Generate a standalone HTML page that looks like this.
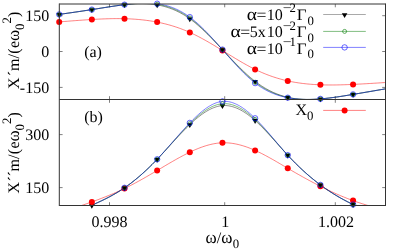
<!DOCTYPE html>
<html><head><meta charset="utf-8"><title>chart</title>
<style>html,body{margin:0;padding:0;background:#fff;width:405px;height:249px;overflow:hidden;font-family:"Liberation Serif",serif;}</style>
</head><body>
<svg width="405" height="249" viewBox="0 0 405 249" style="position:absolute;left:0;top:0;will-change:transform">
<defs><clipPath id="c1"><rect x="59.3" y="4.0" width="326.2" height="95.5"/></clipPath><clipPath id="c2"><rect x="59.3" y="99.5" width="326.2" height="106.0"/></clipPath></defs>
<rect x="0" y="0" width="405" height="249" fill="#fff"/>
<path d="M109.5,4.0 v3.3 M109.5,96.2 v6.6 M109.5,205.5 v-3.3 M224.7,4.0 v3.3 M224.7,96.2 v6.6 M224.7,205.5 v-3.3 M335.3,4.0 v3.3 M335.3,96.2 v6.6 M335.3,205.5 v-3.3 M59.3,15.7 h3.3 M385.5,15.7 h-3.3 M59.3,51.5 h3.3 M385.5,51.5 h-3.3 M59.3,87.4 h3.3 M385.5,87.4 h-3.3 M59.3,134.6 h3.3 M385.5,134.6 h-3.3 M59.3,187.6 h3.3 M385.5,187.6 h-3.3" stroke="#000" stroke-width="0.5" fill="none"/>
<g clip-path="url(#c1)">
<path d="M59.20,21.90 L60.57,21.79 L61.93,21.68 L63.30,21.57 L64.66,21.46 L66.03,21.35 L67.40,21.25 L68.76,21.14 L70.13,21.03 L71.49,20.92 L72.86,20.82 L74.23,20.71 L75.59,20.61 L76.96,20.51 L78.33,20.41 L79.69,20.31 L81.06,20.21 L82.42,20.11 L83.79,20.02 L85.16,19.93 L86.52,19.84 L87.89,19.75 L89.25,19.66 L90.62,19.57 L91.99,19.49 L93.35,19.41 L94.72,19.33 L96.08,19.26 L97.45,19.19 L98.82,19.12 L100.18,19.05 L101.55,18.99 L102.92,18.93 L104.28,18.88 L105.65,18.83 L107.01,18.79 L108.38,18.75 L109.75,18.71 L111.11,18.68 L112.48,18.65 L113.84,18.64 L115.21,18.62 L116.58,18.61 L117.94,18.61 L119.31,18.62 L120.67,18.63 L122.04,18.65 L123.41,18.67 L124.77,18.71 L126.14,18.75 L127.51,18.80 L128.87,18.85 L130.24,18.92 L131.60,18.99 L132.97,19.07 L134.34,19.16 L135.70,19.26 L137.07,19.36 L138.43,19.48 L139.80,19.60 L141.17,19.74 L142.53,19.89 L143.90,20.04 L145.26,20.21 L146.63,20.38 L148.00,20.57 L149.36,20.76 L150.73,20.97 L152.10,21.19 L153.46,21.42 L154.83,21.66 L156.19,21.92 L157.56,22.18 L158.93,22.46 L160.29,22.75 L161.66,23.05 L163.02,23.36 L164.39,23.69 L165.76,24.03 L167.12,24.39 L168.49,24.75 L169.85,25.14 L171.22,25.53 L172.59,25.94 L173.95,26.36 L175.32,26.80 L176.69,27.26 L178.05,27.72 L179.42,28.21 L180.78,28.71 L182.15,29.22 L183.52,29.75 L184.88,30.30 L186.25,30.86 L187.61,31.44 L188.98,32.03 L190.35,32.65 L191.71,33.28 L193.08,33.92 L194.44,34.58 L195.81,35.26 L197.18,35.95 L198.54,36.65 L199.91,37.37 L201.28,38.10 L202.64,38.84 L204.01,39.59 L205.37,40.35 L206.74,41.12 L208.11,41.90 L209.47,42.69 L210.84,43.49 L212.20,44.29 L213.57,45.11 L214.94,45.92 L216.30,46.75 L217.67,47.57 L219.03,48.41 L220.40,49.24 L221.77,50.08 L223.13,50.92 L224.50,51.76 L225.87,52.61 L227.23,53.45 L228.60,54.29 L229.96,55.13 L231.33,55.97 L232.70,56.81 L234.06,57.64 L235.43,58.46 L236.79,59.29 L238.16,60.10 L239.53,60.91 L240.89,61.71 L242.26,62.50 L243.62,63.29 L244.99,64.06 L246.36,64.82 L247.72,65.57 L249.09,66.31 L250.46,67.04 L251.82,67.75 L253.19,68.45 L254.55,69.13 L255.92,69.80 L257.29,70.45 L258.65,71.08 L260.02,71.70 L261.38,72.30 L262.75,72.89 L264.12,73.46 L265.48,74.01 L266.85,74.55 L268.21,75.07 L269.58,75.58 L270.95,76.07 L272.31,76.55 L273.68,77.01 L275.05,77.45 L276.41,77.88 L277.78,78.30 L279.14,78.70 L280.51,79.09 L281.88,79.46 L283.24,79.82 L284.61,80.16 L285.97,80.49 L287.34,80.81 L288.71,81.11 L290.07,81.40 L291.44,81.67 L292.80,81.93 L294.17,82.18 L295.54,82.41 L296.90,82.64 L298.27,82.85 L299.64,83.04 L301.00,83.23 L302.37,83.41 L303.73,83.57 L305.10,83.72 L306.47,83.87 L307.83,84.00 L309.20,84.12 L310.56,84.24 L311.93,84.34 L313.30,84.44 L314.66,84.52 L316.03,84.60 L317.39,84.67 L318.76,84.74 L320.13,84.79 L321.49,84.84 L322.86,84.88 L324.23,84.91 L325.59,84.94 L326.96,84.96 L328.32,84.97 L329.69,84.98 L331.06,84.98 L332.42,84.98 L333.79,84.97 L335.15,84.96 L336.52,84.94 L337.89,84.91 L339.25,84.89 L340.62,84.85 L341.98,84.82 L343.35,84.78 L344.72,84.73 L346.08,84.69 L347.45,84.64 L348.82,84.58 L350.18,84.53 L351.55,84.47 L352.91,84.41 L354.28,84.34 L355.65,84.28 L357.01,84.21 L358.38,84.14 L359.74,84.07 L361.11,84.00 L362.48,83.92 L363.84,83.85 L365.21,83.77 L366.57,83.69 L367.94,83.61 L369.31,83.53 L370.67,83.45 L372.04,83.36 L373.41,83.28 L374.77,83.20 L376.14,83.11 L377.50,83.02 L378.87,82.94 L380.24,82.85 L381.60,82.76 L382.97,82.68 L384.33,82.59 L385.70,82.50" fill="none" stroke="#ff0000" stroke-width="0.5"/>
<path d="M59.20,14.40 L60.57,14.21 L61.93,14.02 L63.30,13.82 L64.66,13.63 L66.03,13.44 L67.40,13.24 L68.76,13.05 L70.13,12.86 L71.49,12.66 L72.86,12.46 L74.23,12.27 L75.59,12.07 L76.96,11.87 L78.33,11.67 L79.69,11.47 L81.06,11.26 L82.42,11.06 L83.79,10.85 L85.16,10.65 L86.52,10.44 L87.89,10.22 L89.25,10.01 L90.62,9.80 L91.99,9.58 L93.35,9.36 L94.72,9.14 L96.08,8.91 L97.45,8.69 L98.82,8.47 L100.18,8.24 L101.55,8.02 L102.92,7.79 L104.28,7.57 L105.65,7.35 L107.01,7.13 L108.38,6.92 L109.75,6.71 L111.11,6.50 L112.48,6.29 L113.84,6.09 L115.21,5.89 L116.58,5.70 L117.94,5.51 L119.31,5.33 L120.67,5.15 L122.04,4.99 L123.41,4.82 L124.77,4.67 L126.14,4.52 L127.51,4.39 L128.87,4.26 L130.24,4.14 L131.60,4.03 L132.97,3.94 L134.34,3.85 L135.70,3.78 L137.07,3.73 L138.43,3.68 L139.80,3.66 L141.17,3.64 L142.53,3.65 L143.90,3.67 L145.26,3.71 L146.63,3.76 L148.00,3.84 L149.36,3.94 L150.73,4.05 L152.10,4.19 L153.46,4.35 L154.83,4.54 L156.19,4.74 L157.56,4.97 L158.93,5.23 L160.29,5.51 L161.66,5.81 L163.02,6.15 L164.39,6.51 L165.76,6.89 L167.12,7.31 L168.49,7.75 L169.85,8.22 L171.22,8.73 L172.59,9.26 L173.95,9.82 L175.32,10.42 L176.69,11.05 L178.05,11.71 L179.42,12.40 L180.78,13.12 L182.15,13.88 L183.52,14.68 L184.88,15.51 L186.25,16.38 L187.61,17.28 L188.98,18.22 L190.35,19.20 L191.71,20.21 L193.08,21.26 L194.44,22.34 L195.81,23.46 L197.18,24.61 L198.54,25.79 L199.91,26.99 L201.28,28.22 L202.64,29.48 L204.01,30.76 L205.37,32.07 L206.74,33.39 L208.11,34.73 L209.47,36.09 L210.84,37.47 L212.20,38.86 L213.57,40.26 L214.94,41.68 L216.30,43.10 L217.67,44.54 L219.03,45.98 L220.40,47.42 L221.77,48.87 L223.13,50.33 L224.50,51.78 L225.87,53.23 L227.23,54.68 L228.60,56.13 L229.96,57.57 L231.33,59.01 L232.70,60.43 L234.06,61.85 L235.43,63.25 L236.79,64.65 L238.16,66.02 L239.53,67.39 L240.89,68.73 L242.26,70.06 L243.62,71.36 L244.99,72.64 L246.36,73.90 L247.72,75.14 L249.09,76.34 L250.46,77.52 L251.82,78.67 L253.19,79.79 L254.55,80.88 L255.92,81.93 L257.29,82.94 L258.65,83.92 L260.02,84.87 L261.38,85.79 L262.75,86.67 L264.12,87.52 L265.48,88.33 L266.85,89.11 L268.21,89.86 L269.58,90.58 L270.95,91.27 L272.31,91.93 L273.68,92.55 L275.05,93.15 L276.41,93.71 L277.78,94.25 L279.14,94.76 L280.51,95.24 L281.88,95.69 L283.24,96.11 L284.61,96.50 L285.97,96.87 L287.34,97.20 L288.71,97.52 L290.07,97.80 L291.44,98.06 L292.80,98.30 L294.17,98.51 L295.54,98.69 L296.90,98.86 L298.27,99.00 L299.64,99.12 L301.00,99.23 L302.37,99.31 L303.73,99.37 L305.10,99.42 L306.47,99.44 L307.83,99.45 L309.20,99.45 L310.56,99.43 L311.93,99.39 L313.30,99.35 L314.66,99.28 L316.03,99.21 L317.39,99.12 L318.76,99.03 L320.13,98.92 L321.49,98.81 L322.86,98.68 L324.23,98.55 L325.59,98.41 L326.96,98.26 L328.32,98.10 L329.69,97.94 L331.06,97.77 L332.42,97.59 L333.79,97.41 L335.15,97.22 L336.52,97.03 L337.89,96.83 L339.25,96.63 L340.62,96.42 L341.98,96.21 L343.35,95.99 L344.72,95.78 L346.08,95.56 L347.45,95.33 L348.82,95.11 L350.18,94.88 L351.55,94.65 L352.91,94.42 L354.28,94.19 L355.65,93.96 L357.01,93.73 L358.38,93.50 L359.74,93.27 L361.11,93.04 L362.48,92.80 L363.84,92.57 L365.21,92.34 L366.57,92.10 L367.94,91.87 L369.31,91.63 L370.67,91.40 L372.04,91.16 L373.41,90.93 L374.77,90.69 L376.14,90.46 L377.50,90.22 L378.87,89.98 L380.24,89.75 L381.60,89.51 L382.97,89.27 L384.33,89.04 L385.70,88.80" fill="none" stroke="#000" stroke-width="0.45"/>
<path d="M59.20,14.40 L60.57,14.21 L61.93,14.01 L63.30,13.82 L64.66,13.62 L66.03,13.43 L67.40,13.23 L68.76,13.04 L70.13,12.84 L71.49,12.65 L72.86,12.45 L74.23,12.25 L75.59,12.05 L76.96,11.85 L78.33,11.65 L79.69,11.45 L81.06,11.25 L82.42,11.04 L83.79,10.84 L85.16,10.63 L86.52,10.42 L87.89,10.22 L89.25,10.00 L90.62,9.79 L91.99,9.58 L93.35,9.36 L94.72,9.15 L96.08,8.93 L97.45,8.71 L98.82,8.49 L100.18,8.27 L101.55,8.05 L102.92,7.83 L104.28,7.61 L105.65,7.40 L107.01,7.18 L108.38,6.97 L109.75,6.76 L111.11,6.55 L112.48,6.34 L113.84,6.14 L115.21,5.94 L116.58,5.74 L117.94,5.55 L119.31,5.37 L120.67,5.18 L122.04,5.01 L123.41,4.83 L124.77,4.67 L126.14,4.51 L127.51,4.35 L128.87,4.21 L130.24,4.07 L131.60,3.94 L132.97,3.82 L134.34,3.72 L135.70,3.62 L137.07,3.54 L138.43,3.47 L139.80,3.42 L141.17,3.38 L142.53,3.35 L143.90,3.34 L145.26,3.35 L146.63,3.38 L148.00,3.43 L149.36,3.50 L150.73,3.59 L152.10,3.69 L153.46,3.83 L154.83,3.98 L156.19,4.16 L157.56,4.36 L158.93,4.59 L160.29,4.85 L161.66,5.13 L163.02,5.44 L164.39,5.78 L165.76,6.14 L167.12,6.54 L168.49,6.96 L169.85,7.42 L171.22,7.91 L172.59,8.43 L173.95,8.98 L175.32,9.56 L176.69,10.18 L178.05,10.83 L179.42,11.52 L180.78,12.24 L182.15,13.00 L183.52,13.80 L184.88,14.63 L186.25,15.50 L187.61,16.41 L188.98,17.36 L190.35,18.35 L191.71,19.38 L193.08,20.45 L194.44,21.55 L195.81,22.69 L197.18,23.86 L198.54,25.06 L199.91,26.30 L201.28,27.56 L202.64,28.85 L204.01,30.16 L205.37,31.50 L206.74,32.86 L208.11,34.25 L209.47,35.65 L210.84,37.06 L212.20,38.50 L213.57,39.95 L214.94,41.41 L216.30,42.88 L217.67,44.36 L219.03,45.85 L220.40,47.35 L221.77,48.85 L223.13,50.35 L224.50,51.86 L225.87,53.36 L227.23,54.87 L228.60,56.37 L229.96,57.86 L231.33,59.35 L232.70,60.82 L234.06,62.29 L235.43,63.74 L236.79,65.18 L238.16,66.61 L239.53,68.01 L240.89,69.40 L242.26,70.76 L243.62,72.10 L244.99,73.42 L246.36,74.71 L247.72,75.97 L249.09,77.20 L250.46,78.39 L251.82,79.56 L253.19,80.68 L254.55,81.77 L255.92,82.83 L257.29,83.84 L258.65,84.81 L260.02,85.74 L261.38,86.64 L262.75,87.50 L264.12,88.32 L265.48,89.11 L266.85,89.86 L268.21,90.58 L269.58,91.27 L270.95,91.92 L272.31,92.54 L273.68,93.13 L275.05,93.68 L276.41,94.21 L277.78,94.71 L279.14,95.18 L280.51,95.62 L281.88,96.03 L283.24,96.41 L284.61,96.77 L285.97,97.10 L287.34,97.41 L288.71,97.70 L290.07,97.96 L291.44,98.19 L292.80,98.41 L294.17,98.60 L295.54,98.77 L296.90,98.92 L298.27,99.05 L299.64,99.16 L301.00,99.25 L302.37,99.33 L303.73,99.38 L305.10,99.42 L306.47,99.45 L307.83,99.45 L309.20,99.45 L310.56,99.43 L311.93,99.39 L313.30,99.34 L314.66,99.28 L316.03,99.21 L317.39,99.12 L318.76,99.03 L320.13,98.92 L321.49,98.81 L322.86,98.68 L324.23,98.55 L325.59,98.41 L326.96,98.26 L328.32,98.11 L329.69,97.94 L331.06,97.77 L332.42,97.60 L333.79,97.41 L335.15,97.23 L336.52,97.03 L337.89,96.83 L339.25,96.63 L340.62,96.42 L341.98,96.21 L343.35,96.00 L344.72,95.78 L346.08,95.56 L347.45,95.33 L348.82,95.11 L350.18,94.88 L351.55,94.65 L352.91,94.42 L354.28,94.19 L355.65,93.96 L357.01,93.73 L358.38,93.50 L359.74,93.27 L361.11,93.03 L362.48,92.80 L363.84,92.57 L365.21,92.33 L366.57,92.10 L367.94,91.87 L369.31,91.63 L370.67,91.40 L372.04,91.16 L373.41,90.93 L374.77,90.69 L376.14,90.45 L377.50,90.22 L378.87,89.98 L380.24,89.75 L381.60,89.51 L382.97,89.27 L384.33,89.04 L385.70,88.80" fill="none" stroke="#007a00" stroke-width="0.5"/>
<path d="M59.20,14.40 L60.57,14.20 L61.93,14.01 L63.30,13.81 L64.66,13.62 L66.03,13.42 L67.40,13.22 L68.76,13.03 L70.13,12.83 L71.49,12.63 L72.86,12.43 L74.23,12.23 L75.59,12.04 L76.96,11.84 L78.33,11.63 L79.69,11.43 L81.06,11.23 L82.42,11.03 L83.79,10.82 L85.16,10.62 L86.52,10.41 L87.89,10.21 L89.25,10.00 L90.62,9.79 L91.99,9.58 L93.35,9.37 L94.72,9.15 L96.08,8.94 L97.45,8.73 L98.82,8.51 L100.18,8.30 L101.55,8.08 L102.92,7.87 L104.28,7.66 L105.65,7.44 L107.01,7.23 L108.38,7.02 L109.75,6.81 L111.11,6.60 L112.48,6.40 L113.84,6.19 L115.21,5.99 L116.58,5.79 L117.94,5.60 L119.31,5.40 L120.67,5.21 L122.04,5.03 L123.41,4.84 L124.77,4.66 L126.14,4.49 L127.51,4.32 L128.87,4.16 L130.24,4.00 L131.60,3.85 L132.97,3.71 L134.34,3.58 L135.70,3.46 L137.07,3.35 L138.43,3.26 L139.80,3.18 L141.17,3.11 L142.53,3.06 L143.90,3.02 L145.26,3.00 L146.63,3.00 L148.00,3.02 L149.36,3.06 L150.73,3.12 L152.10,3.20 L153.46,3.30 L154.83,3.43 L156.19,3.58 L157.56,3.76 L158.93,3.96 L160.29,4.19 L161.66,4.45 L163.02,4.73 L164.39,5.05 L165.76,5.39 L167.12,5.77 L168.49,6.18 L169.85,6.62 L171.22,7.09 L172.59,7.59 L173.95,8.13 L175.32,8.71 L176.69,9.31 L178.05,9.96 L179.42,10.64 L180.78,11.36 L182.15,12.12 L183.52,12.91 L184.88,13.75 L186.25,14.63 L187.61,15.54 L188.98,16.50 L190.35,17.51 L191.71,18.55 L193.08,19.63 L194.44,20.76 L195.81,21.92 L197.18,23.11 L198.54,24.34 L199.91,25.60 L201.28,26.90 L202.64,28.22 L204.01,29.57 L205.37,30.94 L206.74,32.34 L208.11,33.76 L209.47,35.20 L210.84,36.66 L212.20,38.14 L213.57,39.63 L214.94,41.14 L216.30,42.66 L217.67,44.19 L219.03,45.72 L220.40,47.27 L221.77,48.82 L223.13,50.38 L224.50,51.94 L225.87,53.49 L227.23,55.05 L228.60,56.60 L229.96,58.15 L231.33,59.69 L232.70,61.22 L234.06,62.73 L235.43,64.23 L236.79,65.72 L238.16,67.19 L239.53,68.64 L240.89,70.06 L242.26,71.47 L243.62,72.84 L244.99,74.19 L246.36,75.51 L247.72,76.80 L249.09,78.05 L250.46,79.26 L251.82,80.44 L253.19,81.58 L254.55,82.67 L255.92,83.73 L257.29,84.73 L258.65,85.70 L260.02,86.62 L261.38,87.50 L262.75,88.33 L264.12,89.13 L265.48,89.89 L266.85,90.62 L268.21,91.30 L269.58,91.95 L270.95,92.57 L272.31,93.15 L273.68,93.70 L275.05,94.22 L276.41,94.71 L277.78,95.17 L279.14,95.60 L280.51,96.00 L281.88,96.37 L283.24,96.72 L284.61,97.04 L285.97,97.34 L287.34,97.62 L288.71,97.88 L290.07,98.11 L291.44,98.32 L292.80,98.52 L294.17,98.69 L295.54,98.85 L296.90,98.98 L298.27,99.10 L299.64,99.20 L301.00,99.28 L302.37,99.35 L303.73,99.40 L305.10,99.43 L306.47,99.45 L307.83,99.46 L309.20,99.45 L310.56,99.42 L311.93,99.39 L313.30,99.34 L314.66,99.28 L316.03,99.20 L317.39,99.12 L318.76,99.03 L320.13,98.92 L321.49,98.81 L322.86,98.69 L324.23,98.55 L325.59,98.41 L326.96,98.27 L328.32,98.11 L329.69,97.95 L331.06,97.78 L332.42,97.60 L333.79,97.42 L335.15,97.23 L336.52,97.04 L337.89,96.84 L339.25,96.63 L340.62,96.43 L341.98,96.21 L343.35,96.00 L344.72,95.78 L346.08,95.56 L347.45,95.33 L348.82,95.11 L350.18,94.88 L351.55,94.65 L352.91,94.42 L354.28,94.19 L355.65,93.96 L357.01,93.73 L358.38,93.50 L359.74,93.27 L361.11,93.03 L362.48,92.80 L363.84,92.57 L365.21,92.33 L366.57,92.10 L367.94,91.87 L369.31,91.63 L370.67,91.40 L372.04,91.16 L373.41,90.93 L374.77,90.69 L376.14,90.45 L377.50,90.22 L378.87,89.98 L380.24,89.75 L381.60,89.51 L382.97,89.27 L384.33,89.04 L385.70,88.80" fill="none" stroke="#0000ff" stroke-width="0.5"/>
</g>
<circle cx="59.20" cy="21.90" r="3" fill="#ff0000"/>
<circle cx="91.85" cy="19.50" r="3" fill="#ff0000"/>
<circle cx="124.50" cy="18.70" r="3" fill="#ff0000"/>
<circle cx="157.15" cy="22.10" r="3" fill="#ff0000"/>
<circle cx="189.80" cy="32.40" r="3" fill="#ff0000"/>
<circle cx="222.45" cy="50.50" r="3" fill="#ff0000"/>
<circle cx="255.10" cy="69.40" r="3" fill="#ff0000"/>
<circle cx="287.75" cy="80.90" r="3" fill="#ff0000"/>
<circle cx="320.40" cy="84.80" r="3" fill="#ff0000"/>
<circle cx="353.05" cy="84.40" r="3" fill="#ff0000"/>
<path d="M56.40,13.00 L62.00,13.00 L59.20,17.80 Z" fill="#000"/>
<circle cx="59.20" cy="14.40" r="2.0" fill="none" stroke="#007a00" stroke-width="0.6"/>
<circle cx="59.20" cy="14.40" r="2.7" fill="none" stroke="#0000ff" stroke-width="0.6"/>
<path d="M89.05,8.20 L94.65,8.20 L91.85,13.00 Z" fill="#000"/>
<circle cx="91.85" cy="9.60" r="2.0" fill="none" stroke="#007a00" stroke-width="0.6"/>
<circle cx="91.85" cy="9.60" r="2.7" fill="none" stroke="#0000ff" stroke-width="0.6"/>
<path d="M121.70,3.30 L127.30,3.30 L124.50,8.10 Z" fill="#000"/>
<circle cx="124.50" cy="4.70" r="2.0" fill="none" stroke="#007a00" stroke-width="0.6"/>
<circle cx="124.50" cy="4.70" r="2.7" fill="none" stroke="#0000ff" stroke-width="0.6"/>
<path d="M154.35,3.50 L159.95,3.50 L157.15,8.30 Z" fill="#000"/>
<circle cx="157.15" cy="4.30" r="2.0" fill="none" stroke="#007a00" stroke-width="0.6"/>
<circle cx="157.15" cy="3.70" r="2.7" fill="none" stroke="#0000ff" stroke-width="0.6"/>
<path d="M187.00,17.40 L192.60,17.40 L189.80,22.20 Z" fill="#000"/>
<circle cx="189.80" cy="17.95" r="2.0" fill="none" stroke="#007a00" stroke-width="0.6"/>
<circle cx="189.80" cy="17.10" r="2.7" fill="none" stroke="#0000ff" stroke-width="0.6"/>
<path d="M219.65,48.20 L225.25,48.20 L222.45,53.00 Z" fill="#000"/>
<circle cx="222.45" cy="49.60" r="2.0" fill="none" stroke="#007a00" stroke-width="0.6"/>
<circle cx="222.45" cy="49.60" r="2.7" fill="none" stroke="#0000ff" stroke-width="0.6"/>
<path d="M252.30,79.90 L257.90,79.90 L255.10,84.70 Z" fill="#000"/>
<circle cx="255.10" cy="82.20" r="2.0" fill="none" stroke="#007a00" stroke-width="0.6"/>
<circle cx="255.10" cy="83.10" r="2.7" fill="none" stroke="#0000ff" stroke-width="0.6"/>
<path d="M284.95,95.90 L290.55,95.90 L287.75,100.70 Z" fill="#000"/>
<circle cx="287.75" cy="97.50" r="2.0" fill="none" stroke="#007a00" stroke-width="0.6"/>
<circle cx="287.75" cy="97.70" r="2.7" fill="none" stroke="#0000ff" stroke-width="0.6"/>
<path d="M317.60,97.50 L323.20,97.50 L320.40,102.30 Z" fill="#000"/>
<circle cx="320.40" cy="98.90" r="2.0" fill="none" stroke="#007a00" stroke-width="0.6"/>
<circle cx="320.40" cy="98.90" r="2.7" fill="none" stroke="#0000ff" stroke-width="0.6"/>
<path d="M350.25,93.00 L355.85,93.00 L353.05,97.80 Z" fill="#000"/>
<circle cx="353.05" cy="94.40" r="2.0" fill="none" stroke="#007a00" stroke-width="0.6"/>
<circle cx="353.05" cy="94.40" r="2.7" fill="none" stroke="#0000ff" stroke-width="0.6"/>
<g clip-path="url(#c2)">
<path d="M59.20,212.90 L60.57,212.45 L61.93,212.01 L63.30,211.56 L64.66,211.12 L66.03,210.67 L67.40,210.22 L68.76,209.77 L70.13,209.32 L71.49,208.87 L72.86,208.42 L74.23,207.96 L75.59,207.51 L76.96,207.05 L78.33,206.59 L79.69,206.13 L81.06,205.66 L82.42,205.20 L83.79,204.73 L85.16,204.26 L86.52,203.78 L87.89,203.30 L89.25,202.82 L90.62,202.34 L91.99,201.85 L93.35,201.36 L94.72,200.86 L96.08,200.36 L97.45,199.86 L98.82,199.35 L100.18,198.84 L101.55,198.32 L102.92,197.79 L104.28,197.26 L105.65,196.72 L107.01,196.18 L108.38,195.63 L109.75,195.07 L111.11,194.50 L112.48,193.93 L113.84,193.35 L115.21,192.76 L116.58,192.16 L117.94,191.55 L119.31,190.94 L120.67,190.31 L122.04,189.67 L123.41,189.03 L124.77,188.37 L126.14,187.70 L127.51,187.02 L128.87,186.33 L130.24,185.64 L131.60,184.93 L132.97,184.21 L134.34,183.49 L135.70,182.76 L137.07,182.02 L138.43,181.27 L139.80,180.52 L141.17,179.76 L142.53,178.99 L143.90,178.22 L145.26,177.44 L146.63,176.66 L148.00,175.87 L149.36,175.08 L150.73,174.28 L152.10,173.48 L153.46,172.68 L154.83,171.87 L156.19,171.07 L157.56,170.26 L158.93,169.45 L160.29,168.63 L161.66,167.82 L163.02,167.01 L164.39,166.20 L165.76,165.39 L167.12,164.58 L168.49,163.78 L169.85,162.98 L171.22,162.19 L172.59,161.40 L173.95,160.61 L175.32,159.84 L176.69,159.07 L178.05,158.31 L179.42,157.56 L180.78,156.81 L182.15,156.08 L183.52,155.36 L184.88,154.65 L186.25,153.95 L187.61,153.27 L188.98,152.60 L190.35,151.94 L191.71,151.30 L193.08,150.67 L194.44,150.06 L195.81,149.47 L197.18,148.90 L198.54,148.35 L199.91,147.82 L201.28,147.30 L202.64,146.82 L204.01,146.35 L205.37,145.91 L206.74,145.49 L208.11,145.10 L209.47,144.74 L210.84,144.41 L212.20,144.10 L213.57,143.82 L214.94,143.57 L216.30,143.36 L217.67,143.17 L219.03,143.02 L220.40,142.91 L221.77,142.83 L223.13,142.78 L224.50,142.77 L225.87,142.80 L227.23,142.86 L228.60,142.95 L229.96,143.08 L231.33,143.24 L232.70,143.43 L234.06,143.65 L235.43,143.90 L236.79,144.18 L238.16,144.49 L239.53,144.83 L240.89,145.19 L242.26,145.58 L243.62,146.00 L244.99,146.44 L246.36,146.90 L247.72,147.39 L249.09,147.90 L250.46,148.43 L251.82,148.99 L253.19,149.56 L254.55,150.16 L255.92,150.77 L257.29,151.40 L258.65,152.05 L260.02,152.71 L261.38,153.39 L262.75,154.09 L264.12,154.80 L265.48,155.52 L266.85,156.25 L268.21,157.00 L269.58,157.75 L270.95,158.51 L272.31,159.28 L273.68,160.06 L275.05,160.85 L276.41,161.64 L277.78,162.43 L279.14,163.23 L280.51,164.04 L281.88,164.84 L283.24,165.65 L284.61,166.45 L285.97,167.26 L287.34,168.06 L288.71,168.86 L290.07,169.66 L291.44,170.45 L292.80,171.25 L294.17,172.03 L295.54,172.82 L296.90,173.60 L298.27,174.38 L299.64,175.15 L301.00,175.92 L302.37,176.68 L303.73,177.45 L305.10,178.20 L306.47,178.95 L307.83,179.70 L309.20,180.44 L310.56,181.17 L311.93,181.90 L313.30,182.63 L314.66,183.35 L316.03,184.06 L317.39,184.77 L318.76,185.47 L320.13,186.16 L321.49,186.85 L322.86,187.53 L324.23,188.20 L325.59,188.87 L326.96,189.53 L328.32,190.18 L329.69,190.83 L331.06,191.47 L332.42,192.10 L333.79,192.72 L335.15,193.33 L336.52,193.94 L337.89,194.54 L339.25,195.13 L340.62,195.71 L341.98,196.28 L343.35,196.85 L344.72,197.40 L346.08,197.95 L347.45,198.49 L348.82,199.02 L350.18,199.54 L351.55,200.05 L352.91,200.55 L354.28,201.04 L355.65,201.52 L357.01,202.00 L358.38,202.46 L359.74,202.92 L361.11,203.37 L362.48,203.81 L363.84,204.24 L365.21,204.67 L366.57,205.10 L367.94,205.51 L369.31,205.92 L370.67,206.33 L372.04,206.73 L373.41,207.13 L374.77,207.53 L376.14,207.92 L377.50,208.31 L378.87,208.69 L380.24,209.08 L381.60,209.46 L382.97,209.84 L384.33,210.22 L385.70,210.60" fill="none" stroke="#ff0000" stroke-width="0.5"/>
<path d="M59.20,218.70 L60.57,218.15 L61.93,217.60 L63.30,217.06 L64.66,216.51 L66.03,215.96 L67.40,215.41 L68.76,214.86 L70.13,214.30 L71.49,213.75 L72.86,213.19 L74.23,212.63 L75.59,212.08 L76.96,211.51 L78.33,210.95 L79.69,210.38 L81.06,209.81 L82.42,209.24 L83.79,208.67 L85.16,208.09 L86.52,207.51 L87.89,206.92 L89.25,206.33 L90.62,205.74 L91.99,205.14 L93.35,204.54 L94.72,203.93 L96.08,203.32 L97.45,202.70 L98.82,202.07 L100.18,201.43 L101.55,200.79 L102.92,200.13 L104.28,199.47 L105.65,198.79 L107.01,198.10 L108.38,197.40 L109.75,196.68 L111.11,195.94 L112.48,195.20 L113.84,194.43 L115.21,193.65 L116.58,192.85 L117.94,192.03 L119.31,191.19 L120.67,190.33 L122.04,189.44 L123.41,188.54 L124.77,187.61 L126.14,186.66 L127.51,185.69 L128.87,184.69 L130.24,183.67 L131.60,182.63 L132.97,181.56 L134.34,180.47 L135.70,179.36 L137.07,178.23 L138.43,177.08 L139.80,175.91 L141.17,174.71 L142.53,173.50 L143.90,172.26 L145.26,171.01 L146.63,169.73 L148.00,168.44 L149.36,167.13 L150.73,165.80 L152.10,164.45 L153.46,163.08 L154.83,161.70 L156.19,160.29 L157.56,158.87 L158.93,157.43 L160.29,155.98 L161.66,154.52 L163.02,153.04 L164.39,151.56 L165.76,150.07 L167.12,148.57 L168.49,147.07 L169.85,145.56 L171.22,144.06 L172.59,142.56 L173.95,141.06 L175.32,139.57 L176.69,138.09 L178.05,136.61 L179.42,135.15 L180.78,133.70 L182.15,132.27 L183.52,130.85 L184.88,129.45 L186.25,128.07 L187.61,126.72 L188.98,125.39 L190.35,124.08 L191.71,122.80 L193.08,121.56 L194.44,120.34 L195.81,119.16 L197.18,118.02 L198.54,116.91 L199.91,115.84 L201.28,114.81 L202.64,113.83 L204.01,112.89 L205.37,112.00 L206.74,111.16 L208.11,110.37 L209.47,109.63 L210.84,108.94 L212.20,108.32 L213.57,107.75 L214.94,107.24 L216.30,106.79 L217.67,106.41 L219.03,106.09 L220.40,105.84 L221.77,105.66 L223.13,105.56 L224.50,105.52 L225.87,105.55 L227.23,105.66 L228.60,105.83 L229.96,106.07 L231.33,106.37 L232.70,106.73 L234.06,107.16 L235.43,107.65 L236.79,108.20 L238.16,108.80 L239.53,109.46 L240.89,110.17 L242.26,110.94 L243.62,111.76 L244.99,112.63 L246.36,113.55 L247.72,114.52 L249.09,115.53 L250.46,116.59 L251.82,117.69 L253.19,118.83 L254.55,120.02 L255.92,121.24 L257.29,122.50 L258.65,123.79 L260.02,125.11 L261.38,126.47 L262.75,127.85 L264.12,129.26 L265.48,130.69 L266.85,132.14 L268.21,133.61 L269.58,135.10 L270.95,136.59 L272.31,138.10 L273.68,139.62 L275.05,141.15 L276.41,142.67 L277.78,144.20 L279.14,145.73 L280.51,147.26 L281.88,148.78 L283.24,150.29 L284.61,151.80 L285.97,153.29 L287.34,154.76 L288.71,156.22 L290.07,157.66 L291.44,159.08 L292.80,160.48 L294.17,161.87 L295.54,163.24 L296.90,164.59 L298.27,165.92 L299.64,167.23 L301.00,168.53 L302.37,169.80 L303.73,171.06 L305.10,172.30 L306.47,173.52 L307.83,174.72 L309.20,175.91 L310.56,177.07 L311.93,178.22 L313.30,179.34 L314.66,180.45 L316.03,181.54 L317.39,182.61 L318.76,183.66 L320.13,184.70 L321.49,185.71 L322.86,186.70 L324.23,187.68 L325.59,188.64 L326.96,189.58 L328.32,190.50 L329.69,191.40 L331.06,192.29 L332.42,193.16 L333.79,194.02 L335.15,194.86 L336.52,195.68 L337.89,196.49 L339.25,197.28 L340.62,198.06 L341.98,198.82 L343.35,199.57 L344.72,200.30 L346.08,201.02 L347.45,201.73 L348.82,202.43 L350.18,203.11 L351.55,203.78 L352.91,204.43 L354.28,205.08 L355.65,205.71 L357.01,206.34 L358.38,206.95 L359.74,207.55 L361.11,208.15 L362.48,208.73 L363.84,209.31 L365.21,209.88 L366.57,210.44 L367.94,210.99 L369.31,211.54 L370.67,212.09 L372.04,212.62 L373.41,213.15 L374.77,213.68 L376.14,214.20 L377.50,214.72 L378.87,215.24 L380.24,215.76 L381.60,216.27 L382.97,216.78 L384.33,217.29 L385.70,217.80" fill="none" stroke="#000" stroke-width="0.45"/>
<path d="M59.20,218.70 L60.57,218.15 L61.93,217.61 L63.30,217.06 L64.66,216.51 L66.03,215.96 L67.40,215.41 L68.76,214.86 L70.13,214.31 L71.49,213.75 L72.86,213.20 L74.23,212.64 L75.59,212.08 L76.96,211.52 L78.33,210.96 L79.69,210.39 L81.06,209.82 L82.42,209.25 L83.79,208.67 L85.16,208.09 L86.52,207.51 L87.89,206.92 L89.25,206.33 L90.62,205.74 L91.99,205.14 L93.35,204.54 L94.72,203.93 L96.08,203.31 L97.45,202.69 L98.82,202.06 L100.18,201.43 L101.55,200.78 L102.92,200.12 L104.28,199.45 L105.65,198.78 L107.01,198.08 L108.38,197.38 L109.75,196.66 L111.11,195.93 L112.48,195.18 L113.84,194.41 L115.21,193.63 L116.58,192.83 L117.94,192.01 L119.31,191.18 L120.67,190.32 L122.04,189.44 L123.41,188.54 L124.77,187.61 L126.14,186.67 L127.51,185.70 L128.87,184.71 L130.24,183.69 L131.60,182.65 L132.97,181.59 L134.34,180.51 L135.70,179.41 L137.07,178.28 L138.43,177.13 L139.80,175.96 L141.17,174.77 L142.53,173.56 L143.90,172.33 L145.26,171.07 L146.63,169.80 L148.00,168.50 L149.36,167.19 L150.73,165.85 L152.10,164.49 L153.46,163.12 L154.83,161.72 L156.19,160.30 L157.56,158.87 L158.93,157.41 L160.29,155.94 L161.66,154.45 L163.02,152.95 L164.39,151.44 L165.76,149.92 L167.12,148.39 L168.49,146.86 L169.85,145.32 L171.22,143.79 L172.59,142.25 L173.95,140.71 L175.32,139.18 L176.69,137.66 L178.05,136.14 L179.42,134.63 L180.78,133.14 L182.15,131.65 L183.52,130.19 L184.88,128.74 L186.25,127.31 L187.61,125.90 L188.98,124.52 L190.35,123.16 L191.71,121.83 L193.08,120.53 L194.44,119.26 L195.81,118.02 L197.18,116.82 L198.54,115.66 L199.91,114.53 L201.28,113.45 L202.64,112.42 L204.01,111.43 L205.37,110.49 L206.74,109.60 L208.11,108.76 L209.47,107.98 L210.84,107.25 L212.20,106.59 L213.57,105.98 L214.94,105.44 L216.30,104.97 L217.67,104.56 L219.03,104.22 L220.40,103.96 L221.77,103.77 L223.13,103.65 L224.50,103.61 L225.87,103.65 L227.23,103.76 L228.60,103.95 L229.96,104.20 L231.33,104.52 L232.70,104.91 L234.06,105.36 L235.43,105.88 L236.79,106.46 L238.16,107.10 L239.53,107.79 L240.89,108.55 L242.26,109.36 L243.62,110.23 L244.99,111.14 L246.36,112.11 L247.72,113.13 L249.09,114.19 L250.46,115.30 L251.82,116.46 L253.19,117.66 L254.55,118.89 L255.92,120.17 L257.29,121.49 L258.65,122.84 L260.02,124.22 L261.38,125.63 L262.75,127.07 L264.12,128.53 L265.48,130.02 L266.85,131.52 L268.21,133.04 L269.58,134.58 L270.95,136.13 L272.31,137.69 L273.68,139.25 L275.05,140.82 L276.41,142.40 L277.78,143.97 L279.14,145.54 L280.51,147.10 L281.88,148.66 L283.24,150.20 L284.61,151.74 L285.97,153.25 L287.34,154.75 L288.71,156.23 L290.07,157.69 L291.44,159.13 L292.80,160.55 L294.17,161.94 L295.54,163.32 L296.90,164.67 L298.27,166.01 L299.64,167.32 L301.00,168.62 L302.37,169.89 L303.73,171.15 L305.10,172.38 L306.47,173.60 L307.83,174.79 L309.20,175.97 L310.56,177.12 L311.93,178.26 L313.30,179.38 L314.66,180.48 L316.03,181.56 L317.39,182.63 L318.76,183.67 L320.13,184.70 L321.49,185.70 L322.86,186.69 L324.23,187.67 L325.59,188.62 L326.96,189.56 L328.32,190.48 L329.69,191.38 L331.06,192.27 L332.42,193.14 L333.79,193.99 L335.15,194.83 L336.52,195.66 L337.89,196.47 L339.25,197.26 L340.62,198.04 L341.98,198.80 L343.35,199.55 L344.72,200.29 L346.08,201.01 L347.45,201.72 L348.82,202.42 L350.18,203.10 L351.55,203.78 L352.91,204.43 L354.28,205.08 L355.65,205.72 L357.01,206.34 L358.38,206.96 L359.74,207.56 L361.11,208.16 L362.48,208.74 L363.84,209.32 L365.21,209.89 L366.57,210.45 L367.94,211.00 L369.31,211.55 L370.67,212.09 L372.04,212.63 L373.41,213.16 L374.77,213.69 L376.14,214.21 L377.50,214.73 L378.87,215.25 L380.24,215.76 L381.60,216.27 L382.97,216.78 L384.33,217.29 L385.70,217.80" fill="none" stroke="#007a00" stroke-width="0.5"/>
<path d="M59.20,218.70 L60.57,218.15 L61.93,217.61 L63.30,217.06 L64.66,216.51 L66.03,215.96 L67.40,215.41 L68.76,214.86 L70.13,214.31 L71.49,213.76 L72.86,213.20 L74.23,212.64 L75.59,212.08 L76.96,211.52 L78.33,210.96 L79.69,210.39 L81.06,209.82 L82.42,209.25 L83.79,208.67 L85.16,208.09 L86.52,207.51 L87.89,206.92 L89.25,206.33 L90.62,205.74 L91.99,205.14 L93.35,204.54 L94.72,203.93 L96.08,203.31 L97.45,202.69 L98.82,202.06 L100.18,201.42 L101.55,200.77 L102.92,200.12 L104.28,199.45 L105.65,198.77 L107.01,198.08 L108.38,197.37 L109.75,196.65 L111.11,195.92 L112.48,195.17 L113.84,194.40 L115.21,193.62 L116.58,192.82 L117.94,192.01 L119.31,191.17 L120.67,190.31 L122.04,189.43 L123.41,188.54 L124.77,187.61 L126.14,186.67 L127.51,185.70 L128.87,184.71 L130.24,183.70 L131.60,182.67 L132.97,181.61 L134.34,180.53 L135.70,179.43 L137.07,178.31 L138.43,177.16 L139.80,176.00 L141.17,174.81 L142.53,173.60 L143.90,172.36 L145.26,171.11 L146.63,169.83 L148.00,168.54 L149.36,167.22 L150.73,165.88 L152.10,164.52 L153.46,163.14 L154.83,161.73 L156.19,160.31 L157.56,158.86 L158.93,157.40 L160.29,155.92 L161.66,154.42 L163.02,152.90 L164.39,151.38 L165.76,149.84 L167.12,148.29 L168.49,146.73 L169.85,145.17 L171.22,143.61 L172.59,142.04 L173.95,140.48 L175.32,138.91 L176.69,137.35 L178.05,135.79 L179.42,134.25 L180.78,132.71 L182.15,131.18 L183.52,129.66 L184.88,128.16 L186.25,126.67 L187.61,125.21 L188.98,123.76 L190.35,122.33 L191.71,120.93 L193.08,119.56 L194.44,118.21 L195.81,116.89 L197.18,115.61 L198.54,114.37 L199.91,113.17 L201.28,112.01 L202.64,110.89 L204.01,109.82 L205.37,108.81 L206.74,107.84 L208.11,106.93 L209.47,106.08 L210.84,105.29 L212.20,104.56 L213.57,103.90 L214.94,103.31 L216.30,102.79 L217.67,102.34 L219.03,101.97 L220.40,101.68 L221.77,101.47 L223.13,101.35 L224.50,101.31 L225.87,101.35 L227.23,101.48 L228.60,101.68 L229.96,101.96 L231.33,102.31 L232.70,102.74 L234.06,103.24 L235.43,103.80 L236.79,104.43 L238.16,105.13 L239.53,105.89 L240.89,106.71 L242.26,107.58 L243.62,108.52 L244.99,109.51 L246.36,110.55 L247.72,111.64 L249.09,112.77 L250.46,113.96 L251.82,115.19 L253.19,116.46 L254.55,117.77 L255.92,119.11 L257.29,120.50 L258.65,121.91 L260.02,123.36 L261.38,124.83 L262.75,126.33 L264.12,127.85 L265.48,129.40 L266.85,130.96 L268.21,132.53 L269.58,134.12 L270.95,135.72 L272.31,137.32 L273.68,138.93 L275.05,140.55 L276.41,142.16 L277.78,143.77 L279.14,145.37 L280.51,146.97 L281.88,148.56 L283.24,150.13 L284.61,151.69 L285.97,153.23 L287.34,154.75 L288.71,156.25 L290.07,157.72 L291.44,159.17 L292.80,160.60 L294.17,162.00 L295.54,163.38 L296.90,164.74 L298.27,166.08 L299.64,167.40 L301.00,168.69 L302.37,169.96 L303.73,171.22 L305.10,172.45 L306.47,173.66 L307.83,174.85 L309.20,176.02 L310.56,177.17 L311.93,178.30 L313.30,179.41 L314.66,180.51 L316.03,181.58 L317.39,182.64 L318.76,183.68 L320.13,184.70 L321.49,185.70 L322.86,186.69 L324.23,187.66 L325.59,188.61 L326.96,189.54 L328.32,190.46 L329.69,191.36 L331.06,192.25 L332.42,193.12 L333.79,193.97 L335.15,194.81 L336.52,195.64 L337.89,196.45 L339.25,197.24 L340.62,198.02 L341.98,198.79 L343.35,199.54 L344.72,200.28 L346.08,201.00 L347.45,201.72 L348.82,202.42 L350.18,203.10 L351.55,203.77 L352.91,204.43 L354.28,205.08 L355.65,205.72 L357.01,206.35 L358.38,206.96 L359.74,207.57 L361.11,208.16 L362.48,208.75 L363.84,209.32 L365.21,209.89 L366.57,210.45 L367.94,211.01 L369.31,211.56 L370.67,212.10 L372.04,212.63 L373.41,213.17 L374.77,213.69 L376.14,214.21 L377.50,214.73 L378.87,215.25 L380.24,215.76 L381.60,216.27 L382.97,216.78 L384.33,217.29 L385.70,217.80" fill="none" stroke="#0000ff" stroke-width="0.5"/>
</g>
<circle cx="124.50" cy="188.50" r="3" fill="#ff0000"/>
<circle cx="157.15" cy="170.50" r="3" fill="#ff0000"/>
<circle cx="189.80" cy="152.20" r="3" fill="#ff0000"/>
<circle cx="222.45" cy="142.80" r="3" fill="#ff0000"/>
<circle cx="255.10" cy="150.40" r="3" fill="#ff0000"/>
<circle cx="287.75" cy="168.30" r="3" fill="#ff0000"/>
<circle cx="320.40" cy="186.30" r="3" fill="#ff0000"/>
<circle cx="353.05" cy="200.60" r="3" fill="#ff0000"/>
<path d="M89.05,204.00 L94.65,204.00 L91.85,208.80 Z" fill="#000"/>
<circle cx="91.85" cy="201.90" r="3" fill="#ff0000"/>
<path d="M121.70,186.40 L127.30,186.40 L124.50,191.20 Z" fill="#000"/>
<circle cx="124.50" cy="187.80" r="2.0" fill="none" stroke="#007a00" stroke-width="0.6"/>
<circle cx="124.50" cy="187.80" r="2.7" fill="none" stroke="#0000ff" stroke-width="0.6"/>
<path d="M154.35,157.90 L159.95,157.90 L157.15,162.70 Z" fill="#000"/>
<circle cx="157.15" cy="159.30" r="2.0" fill="none" stroke="#007a00" stroke-width="0.6"/>
<circle cx="157.15" cy="159.30" r="2.7" fill="none" stroke="#0000ff" stroke-width="0.6"/>
<path d="M187.00,123.20 L192.60,123.20 L189.80,128.00 Z" fill="#000"/>
<circle cx="189.80" cy="123.70" r="2.0" fill="none" stroke="#007a00" stroke-width="0.6"/>
<circle cx="189.80" cy="122.90" r="2.7" fill="none" stroke="#0000ff" stroke-width="0.6"/>
<path d="M219.65,104.20 L225.25,104.20 L222.45,109.00 Z" fill="#000"/>
<circle cx="222.45" cy="103.70" r="2.0" fill="none" stroke="#007a00" stroke-width="0.6"/>
<circle cx="222.45" cy="101.40" r="2.7" fill="none" stroke="#0000ff" stroke-width="0.6"/>
<path d="M252.30,119.10 L257.90,119.10 L255.10,123.90 Z" fill="#000"/>
<circle cx="255.10" cy="119.40" r="2.0" fill="none" stroke="#007a00" stroke-width="0.6"/>
<circle cx="255.10" cy="118.30" r="2.7" fill="none" stroke="#0000ff" stroke-width="0.6"/>
<path d="M284.95,153.80 L290.55,153.80 L287.75,158.60 Z" fill="#000"/>
<circle cx="287.75" cy="155.20" r="2.0" fill="none" stroke="#007a00" stroke-width="0.6"/>
<circle cx="287.75" cy="155.20" r="2.7" fill="none" stroke="#0000ff" stroke-width="0.6"/>
<path d="M317.60,183.50 L323.20,183.50 L320.40,188.30 Z" fill="#000"/>
<circle cx="320.40" cy="184.90" r="2.0" fill="none" stroke="#007a00" stroke-width="0.6"/>
<circle cx="320.40" cy="184.90" r="2.7" fill="none" stroke="#0000ff" stroke-width="0.6"/>
<path d="M350.25,203.10 L355.85,203.10 L353.05,207.90 Z" fill="#000"/>
<circle cx="353.05" cy="204.50" r="2.0" fill="none" stroke="#007a00" stroke-width="0.6"/>
<circle cx="353.05" cy="204.50" r="2.7" fill="none" stroke="#0000ff" stroke-width="0.6"/>
<path d="M59.3,4.0 H385.5 M59.3,99.5 H385.5 M59.3,206.0 V3.5 M385.5,206.0 V3.5 M59.3,205.5 H385.5" fill="none" stroke="#333" stroke-width="1"/>
<path d="M323.2,14.5 H365.8" stroke="#000" stroke-width="0.34"/>
<path d="M341.80,13.20 L347.40,13.20 L344.60,18.00 Z" fill="#000"/>
<path d="M323.2,31.4 H365.8" stroke="#007a00" stroke-width="0.5"/>
<circle cx="344.60" cy="31.40" r="2.0" fill="none" stroke="#007a00" stroke-width="0.6"/>
<path d="M323.2,47.4 H365.8" stroke="#0000ff" stroke-width="0.5"/>
<circle cx="344.60" cy="47.40" r="2.7" fill="none" stroke="#0000ff" stroke-width="0.6"/>
<path d="M323.2,110.4 H365.8" stroke="#ff0000" stroke-width="0.5"/>
<circle cx="344.60" cy="110.40" r="3" fill="#ff0000"/>
<g font-family="Liberation Serif, serif" fill="#000" style="text-rendering:geometricPrecision">
<text x="49.20" y="21.00" font-size="16" text-anchor="end">150</text>
<text x="49.20" y="56.80" font-size="16" text-anchor="end">0</text>
<text x="49.20" y="92.70" font-size="16" text-anchor="end">-150</text>
<text x="49.20" y="139.90" font-size="16" text-anchor="end">300</text>
<text x="49.20" y="192.90" font-size="16" text-anchor="end">150</text>
<text x="109.40" y="227.40" font-size="16" text-anchor="middle">0.998</text>
<text x="225.20" y="227.40" font-size="16" text-anchor="middle">1</text>
<text x="336.00" y="227.40" font-size="16" text-anchor="middle">1.002</text>
<text transform="translate(205.40,242.80) scale(0.97,1)" font-size="17.5" text-anchor="start">ω</text>
<text x="216.80" y="242.80" font-size="16" text-anchor="start">/</text>
<text transform="translate(221.20,242.80) scale(0.97,1)" font-size="17.5" text-anchor="start">ω</text>
<text x="232.80" y="247.80" font-size="12.8" text-anchor="start">0</text>
<text x="84.20" y="57.30" font-size="16" text-anchor="start">(a)</text>
<text x="84.20" y="122.30" font-size="16" text-anchor="start">(b)</text>
<text transform="translate(246.70,19.70) scale(1.115,1)" font-size="17.5" text-anchor="start">α</text>
<text transform="translate(256.60,19.70) scale(1.1,1)" font-size="16" text-anchor="start">=</text>
<text x="282.70" y="19.70" font-size="16" text-anchor="end">10</text>
<text transform="translate(282.70,12.30) scale(1.22,1)" font-size="12.8" text-anchor="start">−</text>
<text x="289.40" y="12.30" font-size="12.8" text-anchor="start">2</text>
<text transform="translate(296.70,19.70) scale(1.06,1)" font-size="16" text-anchor="start">Γ</text>
<text x="307.60" y="24.50" font-size="12.8" text-anchor="start">0</text>
<text transform="translate(230.40,36.90) scale(1.115,1)" font-size="17.5" text-anchor="start">α</text>
<text transform="translate(240.30,36.90) scale(1.1,1)" font-size="16" text-anchor="start">=</text>
<text x="249.70" y="36.90" font-size="16" text-anchor="start">5x</text>
<text x="282.70" y="36.90" font-size="16" text-anchor="end">10</text>
<text transform="translate(282.70,29.50) scale(1.22,1)" font-size="12.8" text-anchor="start">−</text>
<text x="289.40" y="29.50" font-size="12.8" text-anchor="start">2</text>
<text transform="translate(296.70,36.90) scale(1.06,1)" font-size="16" text-anchor="start">Γ</text>
<text x="307.60" y="41.70" font-size="12.8" text-anchor="start">0</text>
<text transform="translate(246.70,53.50) scale(1.115,1)" font-size="17.5" text-anchor="start">α</text>
<text transform="translate(256.60,53.50) scale(1.1,1)" font-size="16" text-anchor="start">=</text>
<text x="282.70" y="53.50" font-size="16" text-anchor="end">10</text>
<text transform="translate(282.70,46.10) scale(1.22,1)" font-size="12.8" text-anchor="start">−</text>
<text x="289.40" y="46.10" font-size="12.8" text-anchor="start">1</text>
<text transform="translate(296.70,53.50) scale(1.06,1)" font-size="16" text-anchor="start">Γ</text>
<text x="307.60" y="58.30" font-size="12.8" text-anchor="start">0</text>
<text x="295.60" y="114.60" font-size="16" text-anchor="start">X</text>
<text x="306.90" y="119.90" font-size="12.8" text-anchor="start">0</text>
<g transform="translate(19.0,0) rotate(-90)">
<text x="-89.00" y="0.00" font-size="16" text-anchor="start">X</text>
<text x="-76.20" y="0.00" font-size="16" text-anchor="start">´</text>
<text x="-71.00" y="0.00" font-size="16" text-anchor="start">m</text>
<text x="-58.50" y="0.00" font-size="16" text-anchor="start">/</text>
<text x="-53.80" y="0.00" font-size="16" text-anchor="start">(</text>
<text x="-48.10" y="0.00" font-size="16" text-anchor="start">e</text>
<text transform="translate(-41.10,0.00) scale(0.97,1)" font-size="17.5" text-anchor="start">ω</text>
<text x="-29.90" y="4.80" font-size="12.8" text-anchor="start">0</text>
<text x="-23.50" y="-8.00" font-size="12.8" text-anchor="start">2</text>
<text x="-17.10" y="0.00" font-size="16" text-anchor="start">)</text>
</g>
<g transform="translate(19.0,0) rotate(-90)">
<text x="-193.40" y="0.00" font-size="16" text-anchor="start">X</text>
<text x="-181.40" y="0.00" font-size="16" text-anchor="start">´</text>
<text x="-176.50" y="0.00" font-size="16" text-anchor="start">´</text>
<text x="-171.50" y="0.00" font-size="16" text-anchor="start">m</text>
<text x="-159.00" y="0.00" font-size="16" text-anchor="start">/</text>
<text x="-154.30" y="0.00" font-size="16" text-anchor="start">(</text>
<text x="-148.60" y="0.00" font-size="16" text-anchor="start">e</text>
<text transform="translate(-141.60,0.00) scale(0.97,1)" font-size="17.5" text-anchor="start">ω</text>
<text x="-130.40" y="4.80" font-size="12.8" text-anchor="start">0</text>
<text x="-124.00" y="-8.00" font-size="12.8" text-anchor="start">2</text>
<text x="-117.60" y="0.00" font-size="16" text-anchor="start">)</text>
</g>
</g>
</svg>
</body></html>
